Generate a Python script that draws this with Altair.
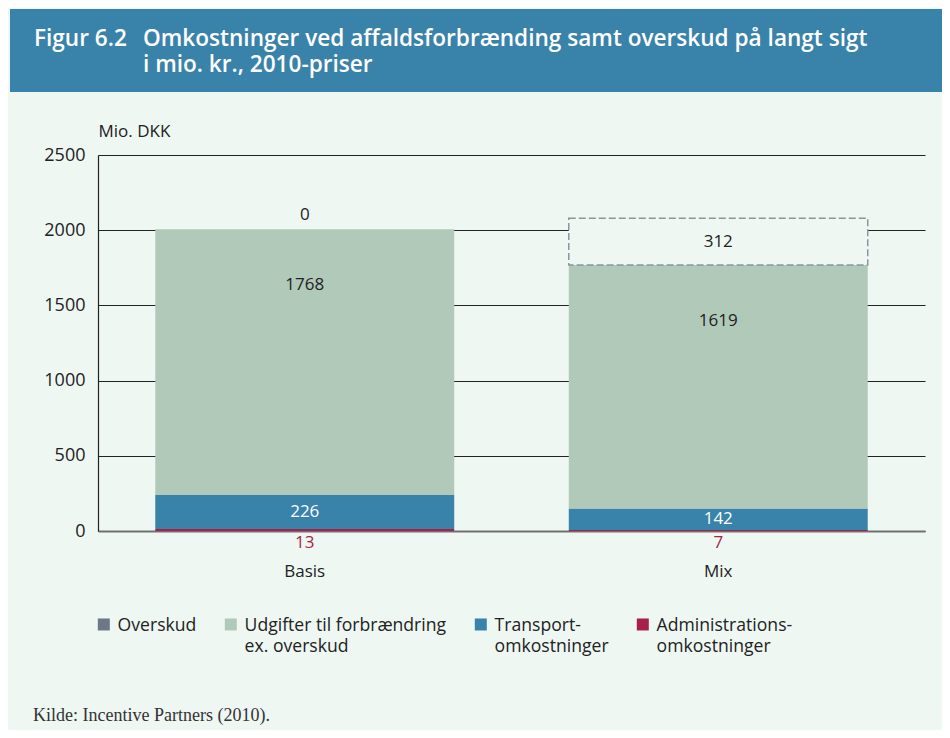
import altair as alt
import pandas as pd

scenarios = ["Basis", "Mix"]
series_names = ["Overskud", "Udgifter til forbrændring ex. overskud",
                "Transportomkostninger", "Administrationsomkostninger"]
series_colors = ["#6b7986", "#b0c9b9", "#3982a9", "#a81f4b"]
admin = [13, 7]
transport = [226, 142]
udgifter = [1768, 1619]
overskud = [0, 312]
y_ticks = [0, 500, 1000, 1500, 2000, 2500]

BG = "#eff7f3"
FONT = "Open Sans"
DARK = "#222222"

stack_order = [("Administrationsomkostninger", admin),
               ("Transportomkostninger", transport),
               ("Udgifter til forbrændring ex. overskud", udgifter),
               ("Overskud", overskud)]
rows = []
for i, sc in enumerate(scenarios):
    base = 0
    for name, vals in stack_order:
        v = vals[i]
        rows.append(dict(scenario=sc, series=name, value=v,
                         y0=base, y1=base + v, mid=base + v / 2))
        base += v
df = pd.DataFrame(rows)

x_enc = alt.X("scenario:N", sort=scenarios,
              scale=alt.Scale(paddingInner=0.277, paddingOuter=0.1385),
              axis=alt.Axis(title=None, labelAngle=0, ticks=False, grid=False,
                            labelPadding=32, labelFontSize=17, labelFont=FONT,
                            labelColor=DARK, domainColor="#707070", domainWidth=2))
y_axis = alt.Axis(title="Mio. DKK", values=y_ticks, format="d", ticks=False, labelPadding=13,
                  labelFontSize=18, labelFont=FONT, labelColor=DARK,
                  domainColor=DARK, domainWidth=1.2, grid=True, gridColor=DARK,
                  gridWidth=1, titleAngle=0, titleAlign="left", titleBaseline="middle",
                  titleX=0, titleY=-24, titleFont=FONT, titleFontSize=17,
                  titleFontWeight="normal", titleColor=DARK)
y_scale = alt.Scale(domain=[0, 2500], nice=False)

def Y(field):
    return alt.Y(field, scale=y_scale, axis=y_axis)

label_expr = ("datum.label == 'Udgifter til forbrændring ex. overskud' ? "
              "['Udgifter til forbrændring', 'ex. overskud'] : "
              "datum.label == 'Transportomkostninger' ? ['Transport-', 'omkostninger'] : "
              "datum.label == 'Administrationsomkostninger' ? ['Administrations-', 'omkostninger'] : "
              "[datum.label, '']")

base = alt.Chart(df)

bars = base.transform_filter("datum.series != 'Overskud'").mark_bar().encode(
    x=x_enc,
    y=Y("y0:Q"),
    y2="y1:Q",
    color=alt.Color("series:N",
                    scale=alt.Scale(domain=series_names, range=series_colors),
                    legend=alt.Legend(title=None, orient="none", legendX=-3, legendY=453,
                                      direction="horizontal", columns=4, columnPadding=25,
                                      symbolType="M-1,0.23H1V2.23H-1Z", symbolSize=144,
                                      symbolStrokeWidth=0, labelFontSize=17.6,
                                      labelFont=FONT, labelColor=DARK, labelOffset=5,
                                      labelLimit=0, labelExpr=label_expr,
                                      labelBaseline="top", padding=0)),
)

dashed = base.transform_filter("datum.series == 'Overskud' && datum.value > 0").mark_bar(
    fill=BG, stroke="#8896a0", strokeDash=[7, 3], strokeWidth=1.5
).encode(x=x_enc, y=Y("y0:Q"), y2="y1:Q")

txt_mid = base.transform_filter(
    "datum.series == 'Transportomkostninger' || (datum.series == 'Overskud' && datum.value > 0)"
).mark_text(fontSize=17, font=FONT, baseline="middle").encode(
    x=x_enc, y=Y("mid:Q"), text="value:Q",
    color=alt.condition("datum.series == 'Transportomkostninger'",
                        alt.value("#ffffff"), alt.value(DARK)),
)

txt_udg = base.transform_filter(
    "datum.series == 'Udgifter til forbrændring ex. overskud'"
).mark_text(fontSize=17, font=FONT, baseline="middle", dy=56, color=DARK).encode(
    x=x_enc, y=Y("y1:Q"), text="value:Q")

txt_zero = base.transform_filter(
    "datum.series == 'Overskud' && datum.value == 0"
).mark_text(fontSize=17, font=FONT, baseline="middle", dy=-14, color=DARK).encode(
    x=x_enc, y=Y("y1:Q"), text="value:Q")

txt_admin = base.transform_filter(
    "datum.series == 'Administrationsomkostninger'"
).mark_text(fontSize=17, font=FONT, baseline="middle", dy=12, color="#a81f4b").encode(
    x=x_enc, y=Y("y0:Q"), text="value:Q")

one = pd.DataFrame({"k": [0]})
header = alt.Chart(one).mark_rect(color="#3982a9").encode(
    x=alt.value(-88), x2=alt.value(844), y=alt.value(-146), y2=alt.value(-63))
title_num = alt.Chart(one).mark_text(
    text="Figur 6.2", font=FONT, fontSize=22.6, fontWeight=600, color="white",
    align="left", baseline="alphabetic").encode(x=alt.value(-64), y=alt.value(-109))
title_main = alt.Chart(one).mark_text(
    text=["Omkostninger ved affaldsforbrænding samt overskud på langt sigt",
          "i mio. kr., 2010-priser"],
    font=FONT, fontSize=22.6, fontWeight=600, color="white", lineHeight=26,
    align="left", baseline="top").encode(x=alt.value(45), y=alt.value(-127))
footer = alt.Chart(one).mark_text(
    text="Kilde: Incentive Partners (2010).", font="Liberation Serif", fontSize=18,
    color="#333333", align="left", baseline="middle").encode(
    x=alt.value(-65), y=alt.value(561))

chart = alt.layer(
    header, title_num, title_main, bars, dashed, txt_mid, txt_udg, txt_zero, txt_admin, footer
).properties(
    width=827, height=376, background=BG,
    padding={"left": 90, "top": 147, "right": 17, "bottom": 199},
    autosize=alt.AutoSizeParams(type="none"),
).configure(
    view=alt.ViewConfig(stroke=None),
    style={"guide-label": {"lineHeight": 21}},
)

chart.save("out.html", embed_options={"renderer": "svg", "actions": False})
